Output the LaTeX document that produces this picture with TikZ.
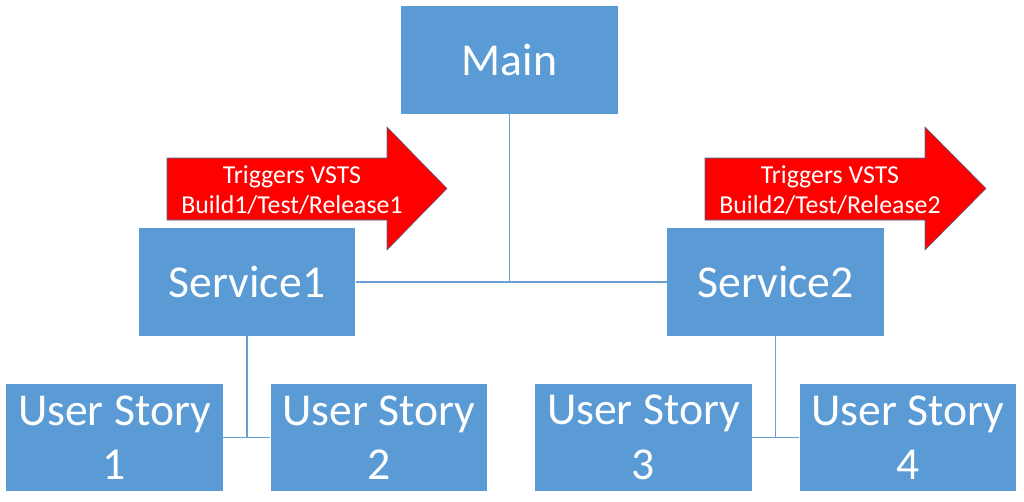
\documentclass[tikz,border=0pt]{standalone}
\usepackage{fontspec}
\setmainfont{Carlito}
\usetikzlibrary{calc}

\definecolor{boxblue}{HTML}{5B9BD5}
\definecolor{lineblue}{HTML}{6A9FD3}
\definecolor{edgeblue}{HTML}{41719C}

\begin{document}
\begin{tikzpicture}[x=0.02cm, y=-0.02cm,
  box/.style={fill=boxblue, text=white, minimum width=4.34cm, minimum height=2.16cm,
    inner sep=0pt, align=center, font=\fontsize{26}{31}\selectfont},
  link/.style={lineblue, line width=0.7pt},
  trigger/.style={fill=red, draw=edgeblue, line width=0.3pt},
  triggertext/.style={text=white, align=center, font=\fontsize{14.7}{17}\selectfont}]
  \useasboundingbox (0,0) rectangle (1024,501);

  \node[box] (main) at (509.5,60) {Main};
  \node[box] (s1) at (247,282) {Service1};
  \node[box] (s2) at (775.5,282) {Service2};
  \node[box] (us1) at (114.5,437.5) {User Story\\1};
  \node[box] (us2) at (379,437.5) {User Story\\2};
  \node[box] (us3) at (643.5,437.5) {User Story\\3};
  \node[box] (us4) at (908,437.5) {User Story\\4};

  \draw[link] (main.south) -- (main.south |- s1.east);
  \draw[link] (s1.east) -- (s2.west);
  \draw[link] (s1.south) -- (s1.south |- us1.east);
  \draw[link] (us1.east) -- (us2.west);
  \draw[link] (s2.south) -- (s2.south |- us3.east);
  \draw[link] (us3.east) -- (us4.west);

  \draw[trigger] (167,158) -- (387,158) -- (387,127) -- (447,188.5) -- (387,250) -- (387,220) -- (167,220) -- cycle;
  \draw[trigger] (705,158) -- (925,158) -- (925,127) -- (986,188.5) -- (925,250) -- (925,220) -- (705,220) -- cycle;
  \node[triggertext] (t1) at (292,190) {Triggers VSTS\\Build1/Test/Release1};
  \node[triggertext] (t2) at (830,190) {Triggers VSTS\\Build2/Test/Release2};
\end{tikzpicture}
\end{document}
